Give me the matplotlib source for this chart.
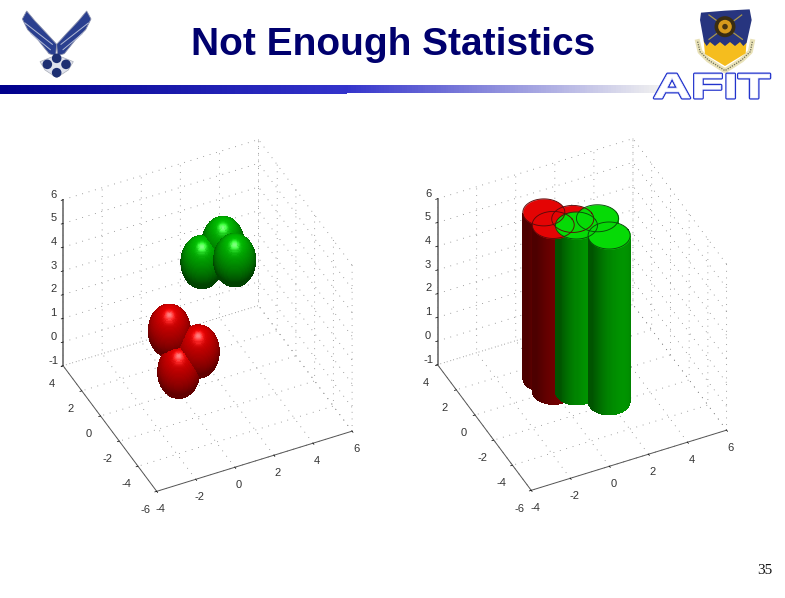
import numpy as np
import matplotlib
matplotlib.use("Agg")
import matplotlib.pyplot as plt
from matplotlib.colors import LinearSegmentedColormap
from matplotlib.patches import Polygon, Circle
from matplotlib.patheffects import AbstractPathEffect
from matplotlib.transforms import Affine2D
from mpl_toolkits.mplot3d import proj3d
from mpl_toolkits.mplot3d.art3d import Poly3DCollection

plt.rcParams['font.family'] = ['Liberation Sans', 'DejaVu Sans']
plt.rcParams['axes.unicode_minus'] = False

# cluster centres
red_x = [0.0, 1.0, 0.0]
red_y = [1.0, 0.0, 0.0]
red_z = [1.05, 0.45, -0.15]
green_x = [2.05, 0.95, 2.0]
green_y = [-0.45, -0.5, -1.8]
green_z = [5.0, 4.5, 5.0]
radius = 0.97

x_ticks = [-4, -2, 0, 2, 4, 6]
y_ticks = [-6, -4, -2, 0, 2, 4]
z_ticks = [-1, 0, 1, 2, 3, 4, 5, 6]

title_text = "Not Enough Statistics"
page_number = "35"

ELEV, AZIM = 40, -115.6
W, H = 785, 598


class StretchText(AbstractPathEffect):
    # WordArt look: widen the glyphs, keep the text a real text object
    def __init__(self, sx, **kwargs):
        super().__init__()
        self.sx = sx
        self.gc_args = kwargs

    def draw_path(self, renderer, gc, tpath, affine, rgbFace=None):
        gc0 = renderer.new_gc()
        gc0.copy_properties(gc)
        gc0 = self._update_gc(gc0, self.gc_args)
        renderer.draw_path(gc0, tpath, Affine2D().scale(self.sx, 1) + affine, rgbFace)
        gc0.restore()


def view_vectors():
    el, az = np.radians(ELEV), np.radians(AZIM)
    v = np.array([np.cos(el) * np.cos(az), np.cos(el) * np.sin(az), np.sin(el)])
    up = np.array([-np.sin(el) * np.cos(az), -np.sin(el) * np.sin(az), np.cos(el)])
    right = np.array([-np.sin(az), np.cos(az), 0])
    return v, up, right


def setup_axes(fig, origin, xend, yend, ztop):
    ax = fig.add_axes([0.1, 0.1, 0.6, 0.6 * W / H], projection='3d', computed_zorder=False)
    ax.set_proj_type('ortho')
    ax.view_init(elev=ELEV, azim=AZIM)
    ax.set_box_aspect((1, 1, 1))
    ax.set_xlim(-4, 6, view_margin=0)
    ax.set_ylim(-6, 4, view_margin=0)
    ax.set_zlim(-1, 6, view_margin=0)
    ax.set_facecolor('none')
    ax.set_xticks(x_ticks)
    ax.set_yticks(y_ticks)
    ax.set_zticks(z_ticks)
    ax.tick_params(axis='x', labelsize=8, labelcolor='#333333', pad=-2)
    ax.tick_params(axis='y', labelsize=8, labelcolor='#333333', pad=0)
    ax.tick_params(axis='z', labelsize=8, labelcolor='#333333', pad=-3.5)
    for lab in ax.zaxis.get_ticklabels():
        lab.set_va('baseline')
    for axis in (ax.xaxis, ax.yaxis, ax.zaxis):
        axis.set_pane_color((1, 1, 1, 0))
        axis.pane.set_edgecolor((1, 1, 1, 0))
        axis.line.set_color('#555555')
        axis.line.set_linewidth(0.7)
        axis._axinfo['grid'].update(color='#808080', linewidth=0.6, linestyle=(0, (1, 7)))
        axis._axinfo['tick'].update(inward_factor=0.12, outward_factor=0.0, linewidth={True: 0.5, False: 0.5})
    ax.zaxis.line.set_color('#777777')
    ax.zaxis.line.set_linewidth(1.3)

    # fit the projected box onto the corners measured in the picture
    corners = [(-4, -6, -1), (6, -6, -1), (-4, 4, -1), (-4, 4, 6)]
    target = np.array([origin, xend, yend, ztop], dtype=float)
    target[:, 1] = H - target[:, 1]
    for _ in range(3):
        ax.apply_aspect()
        M = ax.get_proj()
        pts = []
        for c in corners:
            px, py, _z = proj3d.proj_transform(c[0], c[1], c[2], M)
            pts.append(ax.transData.transform((px, py)))
        pts = np.array(pts)
        scale = (target[1, 0] - target[2, 0]) / (pts[1, 0] - pts[2, 0])
        pos = ax.get_position(original=True)
        side = pos.width * W * scale
        cx = pos.x0 * W + pos.width * W / 2
        cy = pos.y0 * H + pos.height * H / 2
        shift = (target - (pts - [cx, cy]) * scale).mean(axis=0)
        ax.set_position([(shift[0] - side / 2) / W, (shift[1] - side / 2) / H, side / W, side / H])
    return ax


def add_ellipsoids(ax, xs, ys, zs, channel, top, side):
    # channel: 0 red, 1 green. Phong-like shading done in box space
    v, up, right = view_vectors()
    light = v + 0.62 * up
    light = light / np.linalg.norm(light)
    half = light + v
    half = half / np.linalg.norm(half)
    scl = np.array([0.1, 0.1, 1 / 7])
    n = 70
    th = np.linspace(0, 2 * np.pi, 2 * n + 1)
    ph = np.linspace(0, np.pi, n + 1)
    verts, cols = [], []
    for cx, cy, cz in zip(xs, ys, zs):
        for i in range(2 * n):
            for j in range(n):
                t = [th[i], th[i + 1], th[i + 1], th[i]]
                p = [ph[j], ph[j], ph[j + 1], ph[j + 1]]
                d = np.array([np.sin(p) * np.cos(t), np.sin(p) * np.sin(t), np.cos(p)]).T
                nrm = (d / scl).mean(axis=0)
                nrm = nrm / np.linalg.norm(nrm)
                if nrm @ v < -0.02:
                    continue
                diff = max(nrm @ light, 0)
                spec = max(nrm @ half, 0) ** 35
                rgb = np.array([0.0, 0.0, 0.0])
                rgb[channel] = side + (top - side) * diff
                rgb = np.clip(rgb + 0.5 * spec, 0, 1)
                verts.append(d * radius + [cx, cy, cz])
                cols.append(rgb)
    # no antialiasing: thin quads would otherwise blend into streaks
    poly = Poly3DCollection(verts, facecolors=cols, edgecolors='none', linewidths=0,
                            antialiased=False, zorder=5)
    ax.add_collection3d(poly, autolim=False)


def add_cylinder_side(ax, cx, cy, channel, zorder, low, high):
    v, up, right = view_vectors()
    lh = v[:2] / np.linalg.norm(v[:2]) * 0.75 + right[:2] * 0.66
    th = np.linspace(0, 2 * np.pi, 121)
    verts, cols = [], []
    for a, b in zip(th[:-1], th[1:]):
        m = (a + b) / 2
        nrm = np.array([np.cos(m), np.sin(m)])
        if nrm @ v[:2] < -0.03:
            continue
        rgb = [0.0, 0.0, 0.0]
        rgb[channel] = low + (high - low) * max(nrm @ lh, 0)
        verts.append([(cx + radius * np.cos(a), cy + radius * np.sin(a), -1),
                      (cx + radius * np.cos(b), cy + radius * np.sin(b), -1),
                      (cx + radius * np.cos(b), cy + radius * np.sin(b), 6),
                      (cx + radius * np.cos(a), cy + radius * np.sin(a), 6)])
        cols.append(rgb)
    ax.add_collection3d(Poly3DCollection(verts, facecolors=cols, edgecolors='none', linewidths=0,
                                         antialiased=False, zorder=zorder), autolim=False)


def add_cap(ax, cx, cy, color, zorder):
    th = np.linspace(0, 2 * np.pi, 121)
    ring = np.c_[cx + radius * np.cos(th), cy + radius * np.sin(th), np.full_like(th, 6)]
    ax.add_collection3d(Poly3DCollection([ring], facecolors=color, edgecolors=color, linewidths=0.3,
                                         zorder=zorder), autolim=False)


def add_cap_line(ax, cx, cy, color):
    th = np.linspace(0, 2 * np.pi, 121)
    ax.plot(cx + radius * np.cos(th), cy + radius * np.sin(th), np.full_like(th, 6),
            color=color, lw=0.65, zorder=40)


def draw_wings(bg):
    # drawn in the crop coordinates of the logo, scaled back to pixels
    def p(pts):
        return [(15 + a / 3, 5 + b / 3) for a, b in pts]
    left = [(35, 18), (22, 42), (38, 74), (70, 106), (102, 146), (122, 152), (125, 118), (92, 82), (60, 48)]
    right = [(250 - a, b) for a, b in left]
    for wing in (left, right):
        bg.add_patch(Polygon(p(wing), closed=True, fc='#2a3f8f', ec='#8a90ac', lw=0.6, zorder=3))
    for seg in ([(30, 54), (112, 118)], [(48, 86), (106, 134)]):
        for s in (seg, [(250 - a, b) for a, b in seg]):
            q = p(s)
            bg.plot([q[0][0], q[1][0]], [q[0][1], q[1][1]], color='#b4bcd6', lw=0.7, zorder=4)
    # star below the wings
    bg.add_patch(Polygon(p([(125, 150), (175, 170), (160, 195), (125, 218), (90, 195), (75, 170)]),
                         closed=True, fc='#dfe2ec', ec='#a9adb8', lw=0.5, zorder=3))
    for a, b in [(125, 160), (97, 178), (153, 178), (125, 203)]:
        c = p([(a, b)])[0]
        bg.add_patch(Circle(c, 4.8, fc='#1d2f72', ec='none', zorder=4))


def draw_shield(bg):
    def p(pts):
        return [(645 + a / 3, b / 3) for a, b in pts]
    # scroll behind the shield
    q = p([(158, 125), (165, 155), (190, 180), (240, 212), (290, 180), (316, 155), (322, 125)])
    bg.plot([a for a, b in q], [b for a, b in q], color='#e9e2b8', lw=3.6, zorder=3)
    bg.plot([a for a, b in q], [b for a, b in q], color='#6b6a55', lw=0.9, ls=(0, (1, 1)), zorder=4)
    bg.add_patch(Polygon(p([(176, 120), (305, 120), (302, 160), (240, 198), (180, 162)]),
                         closed=True, fc='#f5bd1e', ec='none', zorder=4))
    bg.add_patch(Polygon(p([(168, 38), (240, 32), (314, 28), (320, 60), (305, 128),
                            (295, 138), (285, 126), (270, 138), (255, 126), (240, 138), (225, 126), (210, 138),
                            (195, 126), (185, 138), (177, 126), (165, 60)]),
                         closed=True, fc='#27357f', ec='none', zorder=5))
    for s in ([(192, 45), (292, 118)], [(290, 45), (192, 118)]):
        q = p(s)
        bg.plot([q[0][0], q[1][0]], [q[0][1], q[1][1]], color='#a8964c', lw=0.9, zorder=6)
    c = p([(240, 80)])[0]
    bg.add_patch(Circle(c, 10.5, fc='#3a2d12', ec='none', zorder=7))
    bg.add_patch(Circle(c, 6.8, fc='#d79a1c', ec='none', zorder=8))
    bg.add_patch(Circle(c, 2.8, fc='#4a3510', ec='none', zorder=9))


fig = plt.figure(figsize=(W / 100, H / 100), dpi=100, facecolor='white')

# slide furniture sits in a pixel-coordinate axes
bg = fig.add_axes([0, 0, 1, 1], zorder=0)
bg.set_xlim(0, W)
bg.set_ylim(H, 0)
bg.axis('off')

bar_cmap = LinearSegmentedColormap.from_list(
    'bar', [(0, '#00008c'), (347 / 660, '#3434cc'), (1, '#f0f0f0')])
ramp = np.linspace(0, 1, 660)[None, :]
bg.imshow(ramp[:, :347], extent=(0, 347, 94.5, 86), aspect='auto', cmap=bar_cmap, vmin=0, vmax=1, zorder=1)
bg.imshow(ramp[:, 347:], extent=(347, 660, 93.5, 86), aspect='auto', cmap=bar_cmap, vmin=0, vmax=1, zorder=1)
bg.set_xlim(0, W)
bg.set_ylim(H, 0)

draw_wings(bg)
draw_shield(bg)

bg.text(393.5, 45, title_text, fontsize=28, fontweight='bold', color='#00006e',
        ha='center', va='center', zorder=6)
bg.text(765, 570, page_number, family=['Liberation Serif'], fontsize=11, color='#111111',
        ha='center', va='center', zorder=6)
afit = bg.text(653, 98, "AFIT", fontsize=25, fontweight='bold', color='white',
               ha='left', va='baseline', zorder=10)
afit.set_path_effects([StretchText(1.52, linewidth=2.3, foreground='#2233cc'),
                       StretchText(1.52, linewidth=0.5, foreground='#eef1ff')])

# left panel: ellipsoids
ax1 = setup_axes(fig, (157, 492), (352, 433), (63, 365), (63, 198))
add_ellipsoids(ax1, red_x, red_y, red_z, 0, 0.90, 0.38)
add_ellipsoids(ax1, green_x, green_y, green_z, 1, 0.76, 0.26)

# right panel: same clusters extruded through the whole z range
ax2 = setup_axes(fig, (530, 491), (727, 433), (438, 363), (438, 197))
order = 5
for cx, cy, ch in [(red_x[0], red_y[0], 0), (red_x[1], red_y[1], 0), (red_x[2], red_y[2], 0),
                   (green_x[0], green_y[0], 1), (green_x[1], green_y[1], 1), (green_x[2], green_y[2], 1)]:
    low, high = (0.30, 0.47) if ch == 0 else (0.33, 0.58)
    add_cylinder_side(ax2, cx, cy, ch, order, low, high)
    order += 1
for cx, cy in zip(red_x, red_y):
    add_cap(ax2, cx, cy, '#e40404', 20)
for cx, cy in zip(green_x, green_y):
    add_cap(ax2, cx, cy, '#06da06', 21)
for cx, cy in zip(red_x, red_y):
    add_cap_line(ax2, cx, cy, '#5a0a0a')
for cx, cy in zip(green_x, green_y):
    add_cap_line(ax2, cx, cy, '#0a4a0a')

fig.savefig('out.png', dpi=100)
